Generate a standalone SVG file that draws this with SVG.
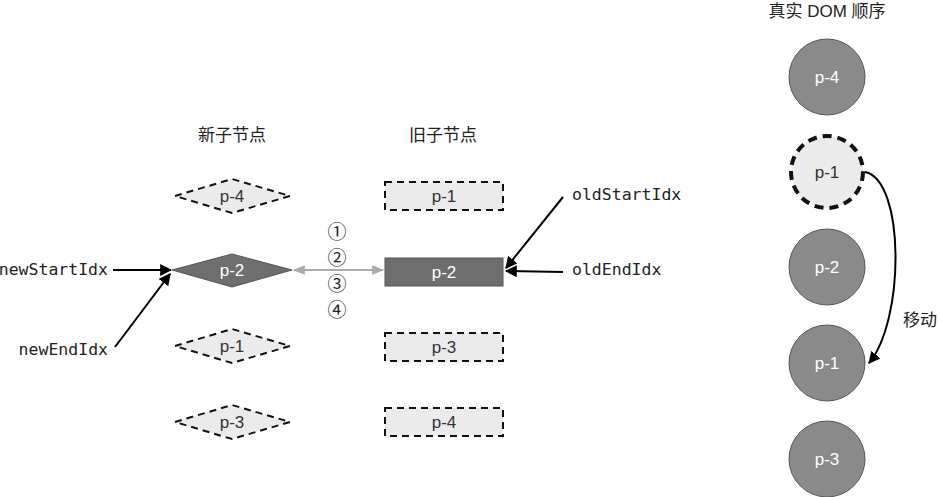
<svg xmlns="http://www.w3.org/2000/svg" width="942" height="497" viewBox="0 0 942 497">
<style>
.t{font-family:"Liberation Sans","Noto Sans CJK SC",sans-serif;font-size:17px;fill:#222;text-anchor:middle}
.w{font-family:"Liberation Sans",sans-serif;font-size:17px;fill:#fff;text-anchor:middle}
.n{font-family:"Liberation Sans",sans-serif;font-size:17px;fill:#333;text-anchor:middle}
.m{font-family:"DejaVu Sans Mono",monospace;font-size:16.5px;fill:#222}
.dash{fill:#ebebeb;stroke:#111;stroke-width:2;stroke-dasharray:7,5}
.dk{fill:#6e6e6e;stroke:#555;stroke-width:1}
.c{fill:#8a8a8a;stroke:#555;stroke-width:1}
.ln{stroke:#000;stroke-width:2;fill:none}
.num{font-family:"Noto Sans CJK SC",sans-serif;font-size:19px;fill:#222;text-anchor:middle}
</style>
<defs>
<marker id="a" viewBox="0 0 10 10" refX="9" refY="5" markerWidth="6" markerHeight="6" orient="auto"><path d="M0,0L10,5L0,10z" fill="#000"/></marker>
<marker id="g" viewBox="0 0 10 10" refX="9" refY="5" markerWidth="7" markerHeight="6" orient="auto-start-reverse"><path d="M0,1L10,5L0,9z" fill="#aaa"/></marker>
</defs>
<text class="t" x="232" y="141">新子节点</text>
<text class="t" x="443" y="141">旧子节点</text>
<text class="t" x="827" y="17">真实 DOM 顺序</text>
<g id="new-p4"><path class="dash" d="M175,196L232,179L290,196L232,213z"/><text class="n" x="232" y="202">p-4</text></g>
<g id="new-p2"><path class="dk" d="M172,270L232,254L292,270L232,287z"/><text class="w" x="232" y="276">p-2</text></g>
<g id="new-p1"><path class="dash" d="M175,346L232,329L290,346L232,363z"/><text class="n" x="232" y="352">p-1</text></g>
<g id="new-p3"><path class="dash" d="M175,422L232,405L290,422L232,439z"/><text class="n" x="232" y="428">p-3</text></g>
<g id="old-p1"><rect class="dash" x="385" y="182" width="118" height="28"/><text class="n" x="444" y="202">p-1</text></g>
<g id="old-p2"><rect class="dk" x="385" y="258" width="118" height="28"/><text class="w" x="444" y="278">p-2</text></g>
<g id="old-p3"><rect class="dash" x="385" y="333" width="118" height="28"/><text class="n" x="444" y="353">p-3</text></g>
<g id="old-p4"><rect class="dash" x="385" y="408" width="118" height="28"/><text class="n" x="444" y="428">p-4</text></g>
<g id="dom-p4"><circle class="c" cx="827" cy="77" r="38"/><text class="w" x="827" y="83">p-4</text></g>
<g id="dom-p1a"><circle class="dash" cx="827" cy="172" r="36" style="stroke-width:4;stroke-dasharray:9,6"/><text class="n" x="827" y="178">p-1</text></g>
<g id="dom-p2"><circle class="c" cx="827" cy="267" r="38"/><text class="w" x="827" y="273">p-2</text></g>
<g id="dom-p1b"><circle class="c" cx="827" cy="363" r="38"/><text class="w" x="827" y="369">p-1</text></g>
<g id="dom-p3"><circle class="c" cx="827" cy="459" r="38"/><text class="w" x="827" y="465">p-3</text></g>
<g id="labels">
<text class="m" x="108" y="275" text-anchor="end">newStartIdx</text>
<text class="m" x="108" y="355" text-anchor="end">newEndIdx</text>
<text class="m" x="572" y="200">oldStartIdx</text>
<text class="m" x="572" y="275">oldEndIdx</text>
<text class="num" x="337" y="239">①</text>
<text class="num" x="337" y="265">②</text>
<text class="num" x="337" y="291">③</text>
<text class="num" x="337" y="317">④</text>
<text class="t" x="920" y="326">移动</text>
</g>
<g id="connectors">
<line class="ln" x1="113" y1="270" x2="171" y2="270" marker-end="url(#a)"/>
<line class="ln" x1="115" y1="347" x2="170" y2="274" marker-end="url(#a)"/>
<line class="ln" x1="563" y1="197" x2="506" y2="268" marker-end="url(#a)"/>
<line class="ln" x1="563" y1="272" x2="506" y2="271" marker-end="url(#a)"/>
<line x1="294" y1="270" x2="383" y2="270" stroke="#aaa" stroke-width="2" marker-start="url(#g)" marker-end="url(#g)"/>
<path class="ln" d="M865,172C905,180 905,320 869,363" marker-end="url(#a)"/>
</g>
</svg>
